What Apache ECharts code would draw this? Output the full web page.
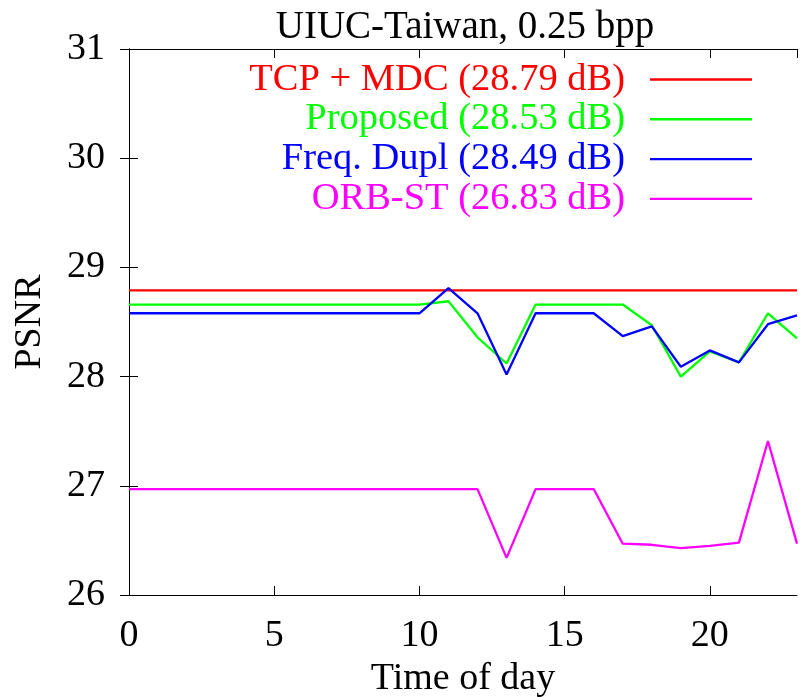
<!DOCTYPE html>
<html>
<head>
<meta charset="utf-8">
<script src="https://cdn.jsdelivr.net/npm/echarts@6/dist/echarts.min.js"></script>
<style>
  html, body { margin: 0; padding: 0; background: #fff; }
  #main { width: 803px; height: 697px; }
</style>
</head>
<body>
<div id="main"></div>
<script>
// hours of day
const hours = [0, 1, 2, 3, 4, 5, 6, 7, 8, 9, 10, 11, 12, 13, 14, 15, 16, 17, 18, 19, 20, 21, 22, 23];
// PSNR per hour
const tcpMdc = [28.79, 28.79, 28.79, 28.79, 28.79, 28.79, 28.79, 28.79, 28.79, 28.79, 28.79, 28.79,
  28.79, 28.79, 28.79, 28.79, 28.79, 28.79, 28.79, 28.79, 28.79, 28.79, 28.79, 28.79];
const proposed = [28.66, 28.66, 28.66, 28.66, 28.66, 28.66, 28.66, 28.66, 28.66, 28.66, 28.66, 28.69,
  28.36, 28.12, 28.66, 28.66, 28.66, 28.66, 28.47, 28.00, 28.23, 28.13, 28.58, 28.35];
const freqDupl = [28.58, 28.58, 28.58, 28.58, 28.58, 28.58, 28.58, 28.58, 28.58, 28.58, 28.58, 28.81,
  28.58, 28.02, 28.58, 28.58, 28.58, 28.37, 28.46, 28.09, 28.24, 28.13, 28.48, 28.56];
const orbSt = [26.97, 26.97, 26.97, 26.97, 26.97, 26.97, 26.97, 26.97, 26.97, 26.97, 26.97, 26.97,
  26.97, 26.34, 26.97, 26.97, 26.97, 26.47, 26.46, 26.43, 26.45, 26.48, 27.41, 26.47];

const seriesNames = ['TCP + MDC (28.79 dB)', 'Proposed (28.53 dB)', 'Freq. Dupl (28.49 dB)', 'ORB-ST (26.83 dB)'];
const seriesColors = ['#ff0000', '#00ff00', '#0000ff', '#ff00ff'];
const seriesData = [tcpMdc, proposed, freqDupl, orbSt];

const font = 'Liberation Serif';
const fs = 38;
let myChart = echarts.init(document.getElementById('main'));

function pairs(vals) {
  return hours.map((h, i) => [h, vals[i]]);
}

const tickStyle = {inside: true, length: 9, lineStyle: {color: '#000', width: 1}};
const lineStyle = {lineStyle: {color: '#000', width: 1}};

let option = {
  animation: false,
  backgroundColor: '#fff',
  textStyle: {fontFamily: font},
  title: {
    text: 'UIUC-Taiwan, 0.25 bpp',
    left: 460,
    textAlign: 'center',
    top: 3,
    textStyle: {fontFamily: font, fontSize: 39, fontWeight: 'normal', color: '#000'}
  },
  legend: {
    orient: 'vertical',
    align: 'right',
    right: 46,
    top: 55,
    icon: 'rect',
    itemWidth: 102,
    itemHeight: 2.4,
    itemGap: 0.8,
    data: seriesNames.map((n, i) => ({
      name: n,
      textStyle: {color: seriesColors[i], fontSize: 38.5, fontFamily: font, lineHeight: 38,
        padding: [0, 20, 0, 0]}
    }))
  },
  grid: {left: 129, right: 6, top: 49, bottom: 102, outerBoundsMode: 'none'},
  xAxis: [
    {
      type: 'value', min: 0, max: 23, interval: 5,
      name: 'Time of day', nameLocation: 'middle', nameGap: 53,
      nameTextStyle: {fontFamily: font, fontSize: fs, color: '#000'},
      axisLine: lineStyle,
      axisTick: tickStyle,
      axisLabel: {fontFamily: font, fontSize: fs, color: '#000', margin: 22,
        showMaxLabel: false},
      splitLine: {show: false}
    },
    {
      type: 'value', min: 0, max: 23, interval: 5, position: 'top',
      axisLine: lineStyle,
      axisTick: tickStyle,
      axisLabel: {show: false},
      splitLine: {show: false}
    }
  ],
  yAxis: [
    {
      type: 'value', min: 26, max: 31, interval: 1,
      name: 'PSNR', nameLocation: 'middle', nameGap: 80, nameRotate: 90,
      nameTextStyle: {fontFamily: font, fontSize: fs, color: '#000'},
      axisLine: {show: true, lineStyle: {color: '#000', width: 1}},
      axisTick: Object.assign({show: true}, tickStyle),
      axisLabel: {fontFamily: font, fontSize: fs, color: '#000', margin: 24},
      splitLine: {show: false}
    },
    {
      type: 'value', min: 26, max: 31, interval: 1, position: 'right',
      axisLine: {show: true, lineStyle: {color: '#000', width: 1}},
      axisTick: Object.assign({show: true}, tickStyle),
      axisLabel: {show: false},
      splitLine: {show: false}
    }
  ],
  series: seriesNames.map((n, i) => ({
    name: n,
    type: 'line',
    data: pairs(seriesData[i]),
    symbol: 'none',
    color: seriesColors[i],
    lineStyle: {color: seriesColors[i], width: 2.3}
  }))
};
option && myChart.setOption(option);
</script>
</body>
</html>
